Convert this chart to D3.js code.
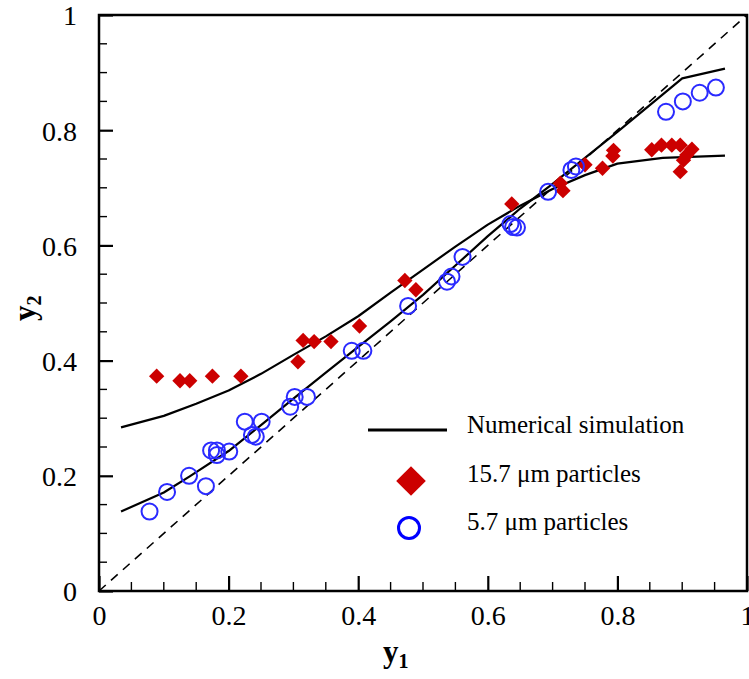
<!DOCTYPE html>
<html>
<head>
<meta charset="utf-8">
<script src="https://cdn.jsdelivr.net/npm/d3@7"></script>
<style>
  body { margin: 0; background: #fff; }
  svg text { font-family: "Liberation Serif", "Times New Roman", serif; fill: #000; }
</style>
</head>
<body>
<script>
// measured data (y1, y2)
var diamX = [0.089, 0.125, 0.140, 0.175, 0.219, 0.307, 0.315, 0.332, 0.358, 0.402, 0.472, 0.489,
    0.637, 0.712, 0.716, 0.750, 0.777, 0.793, 0.794, 0.853, 0.868, 0.884, 0.897, 0.915, 0.907, 0.902, 0.897];
var diamY = [0.373, 0.365, 0.365, 0.373, 0.373, 0.398, 0.435, 0.433, 0.433, 0.460, 0.539, 0.523,
    0.672, 0.708, 0.695, 0.740, 0.734, 0.755, 0.765, 0.766, 0.774, 0.774, 0.774, 0.767, 0.757, 0.748, 0.728];

var circX = [0.078, 0.105, 0.139, 0.165, 0.173, 0.182, 0.182, 0.201, 0.225, 0.236, 0.242, 0.251,
    0.295, 0.302, 0.321, 0.390, 0.408, 0.477, 0.537, 0.544, 0.561, 0.635, 0.639, 0.645, 0.693,
    0.729, 0.736, 0.875, 0.901, 0.927, 0.952];
var circY = [0.138, 0.172, 0.200, 0.182, 0.244, 0.244, 0.236, 0.242, 0.294, 0.271, 0.268, 0.294,
    0.320, 0.337, 0.337, 0.417, 0.417, 0.495, 0.537, 0.546, 0.580, 0.637, 0.632, 0.631, 0.693,
    0.731, 0.737, 0.832, 0.850, 0.865, 0.874];

// numerical simulation curves
var simBigX = [0.034, 0.1, 0.15, 0.2, 0.25, 0.3, 0.35, 0.4, 0.45, 0.5, 0.55, 0.6, 0.65, 0.7, 0.75, 0.8, 0.87, 0.966];
var simBigY = [0.284, 0.304, 0.325, 0.348, 0.377, 0.41, 0.442, 0.477, 0.518, 0.558, 0.598, 0.636, 0.669, 0.698, 0.722, 0.742, 0.752, 0.756];
var simSmallX = [0.034, 0.1, 0.14, 0.2, 0.25, 0.3, 0.35, 0.4, 0.45, 0.5, 0.55, 0.6, 0.65, 0.7, 0.8, 0.9, 0.966];
var simSmallY = [0.138, 0.171, 0.199, 0.243, 0.288, 0.334, 0.379, 0.424, 0.468, 0.514, 0.565, 0.616, 0.664, 0.707, 0.797, 0.89, 0.907];

var diagonal = [0, 1];
var majorTicks = [0, 0.2, 0.4, 0.6, 0.8, 1];
var minorTicks = [0.05, 0.1, 0.15, 0.25, 0.3, 0.35, 0.45, 0.5, 0.55, 0.65, 0.7, 0.75, 0.85, 0.9, 0.95];

var legendLabels = ['Numerical simulation', '15.7 \u03bcm particles', '5.7 \u03bcm particles'];

var width = 749, height = 679;
var plotL = 99, plotR = 747, plotT = 15, plotB = 591;

var svg = d3.select('body').append('svg')
    .attr('width', width)
    .attr('height', height);

var x = d3.scaleLinear().domain([0, 1]).range([plotL, plotR]);
var y = d3.scaleLinear().domain([0, 1]).range([plotB, plotT]);

var zip = function(xs, ys) {
    return xs.map(function(d, i) { return [d, ys[i]]; });
};

// ticks (inward, bottom and left only)
var xAxis = d3.axisBottom(x).tickValues(majorTicks).tickSize(-15).tickFormat(d3.format('~g'))
    .tickPadding(21);
var yAxis = d3.axisLeft(y).tickValues(majorTicks).tickSize(-14).tickFormat(d3.format('~g'))
    .tickPadding(22);

var gx = svg.append('g').attr('transform', 'translate(0,' + plotB + ')').call(xAxis);
var gy = svg.append('g').attr('transform', 'translate(' + plotL + ',0)').call(yAxis);
[gx, gy].forEach(function(g) {
    g.select('.domain').remove();
    g.selectAll('line').attr('stroke', '#000').attr('stroke-width', 2.2);
    g.selectAll('text').style('font-size', '28px').attr('fill', '#000');
});
gx.selectAll('text').attr('dy', '0.45em');
gy.selectAll('text').attr('dy', '0.35em');

svg.append('g').selectAll('line')
    .data(minorTicks)
    .enter().append('line')
    .attr('x1', function(d) { return x(d); })
    .attr('x2', function(d) { return x(d); })
    .attr('y1', plotB).attr('y2', plotB - 9)
    .attr('stroke', '#000').attr('stroke-width', 1.4);

svg.append('g').selectAll('line')
    .data(minorTicks)
    .enter().append('line')
    .attr('y1', function(d) { return y(d); })
    .attr('y2', function(d) { return y(d); })
    .attr('x1', plotL).attr('x2', plotL + 8)
    .attr('stroke', '#000').attr('stroke-width', 1.4);

// frame
svg.append('rect')
    .attr('x', plotL).attr('y', plotT)
    .attr('width', plotR - plotL).attr('height', plotB - plotT)
    .attr('fill', 'none').attr('stroke', '#000').attr('stroke-width', 2.5);

var line = d3.line()
    .x(function(d) { return x(d[0]); })
    .y(function(d) { return y(d[1]); });

// y = x reference
svg.append('path')
    .datum(zip(diagonal, diagonal))
    .attr('d', line)
    .attr('fill', 'none')
    .attr('stroke', '#000')
    .attr('stroke-width', 1.6)
    .attr('stroke-dasharray', '9,7');

[zip(simBigX, simBigY), zip(simSmallX, simSmallY)].forEach(function(pts) {
    svg.append('path')
        .datum(pts)
        .attr('d', line)
        .attr('fill', 'none')
        .attr('stroke', '#000')
        .attr('stroke-width', 2.2)
        .attr('stroke-linejoin', 'round');
});

var diamond = d3.symbol().type(d3.symbolDiamond2).size(150);
var bigDiamond = d3.symbol().type(d3.symbolDiamond2).size(560);

svg.append('g').selectAll('path')
    .data(zip(diamX, diamY))
    .enter().append('path')
    .attr('d', diamond)
    .attr('transform', function(d) { return 'translate(' + x(d[0]) + ',' + y(d[1]) + ')'; })
    .attr('fill', '#cc0000');

svg.append('g').selectAll('circle')
    .data(zip(circX, circY))
    .enter().append('circle')
    .attr('cx', function(d) { return x(d[0]); })
    .attr('cy', function(d) { return y(d[1]); })
    .attr('r', 8)
    .attr('fill', 'none')
    .attr('stroke', '#2a2aff')
    .attr('stroke-width', 2);

// legend
var lg = svg.append('g');
lg.append('line')
    .attr('x1', 368).attr('x2', 447).attr('y1', 430).attr('y2', 430)
    .attr('stroke', '#000').attr('stroke-width', 3);
lg.append('path')
    .attr('d', bigDiamond)
    .attr('transform', 'translate(411,481)')
    .attr('fill', '#cc0000');
lg.append('circle')
    .attr('cx', 409).attr('cy', 528).attr('r', 10.5)
    .attr('fill', 'none').attr('stroke', '#0000ff').attr('stroke-width', 3);
lg.selectAll('text')
    .data(legendLabels)
    .enter().append('text')
    .attr('x', 467)
    .attr('y', function(d, i) { return 433 + i * 48.5; })
    .style('font-size', '25px')
    .text(function(d) { return d; });

// axis titles
var xt = svg.append('text')
    .attr('x', 383).attr('y', 662)
    .style('font-size', '31px').style('font-weight', 'bold');
xt.append('tspan').text('y');
xt.append('tspan').attr('dy', 6).style('font-size', '20px').text('1');

var yt = svg.append('text')
    .attr('transform', 'translate(35,321) rotate(-90)')
    .style('font-size', '31px').style('font-weight', 'bold');
yt.append('tspan').text('y');
yt.append('tspan').attr('dy', 6).style('font-size', '20px').text('2');
</script>
</body>
</html>
